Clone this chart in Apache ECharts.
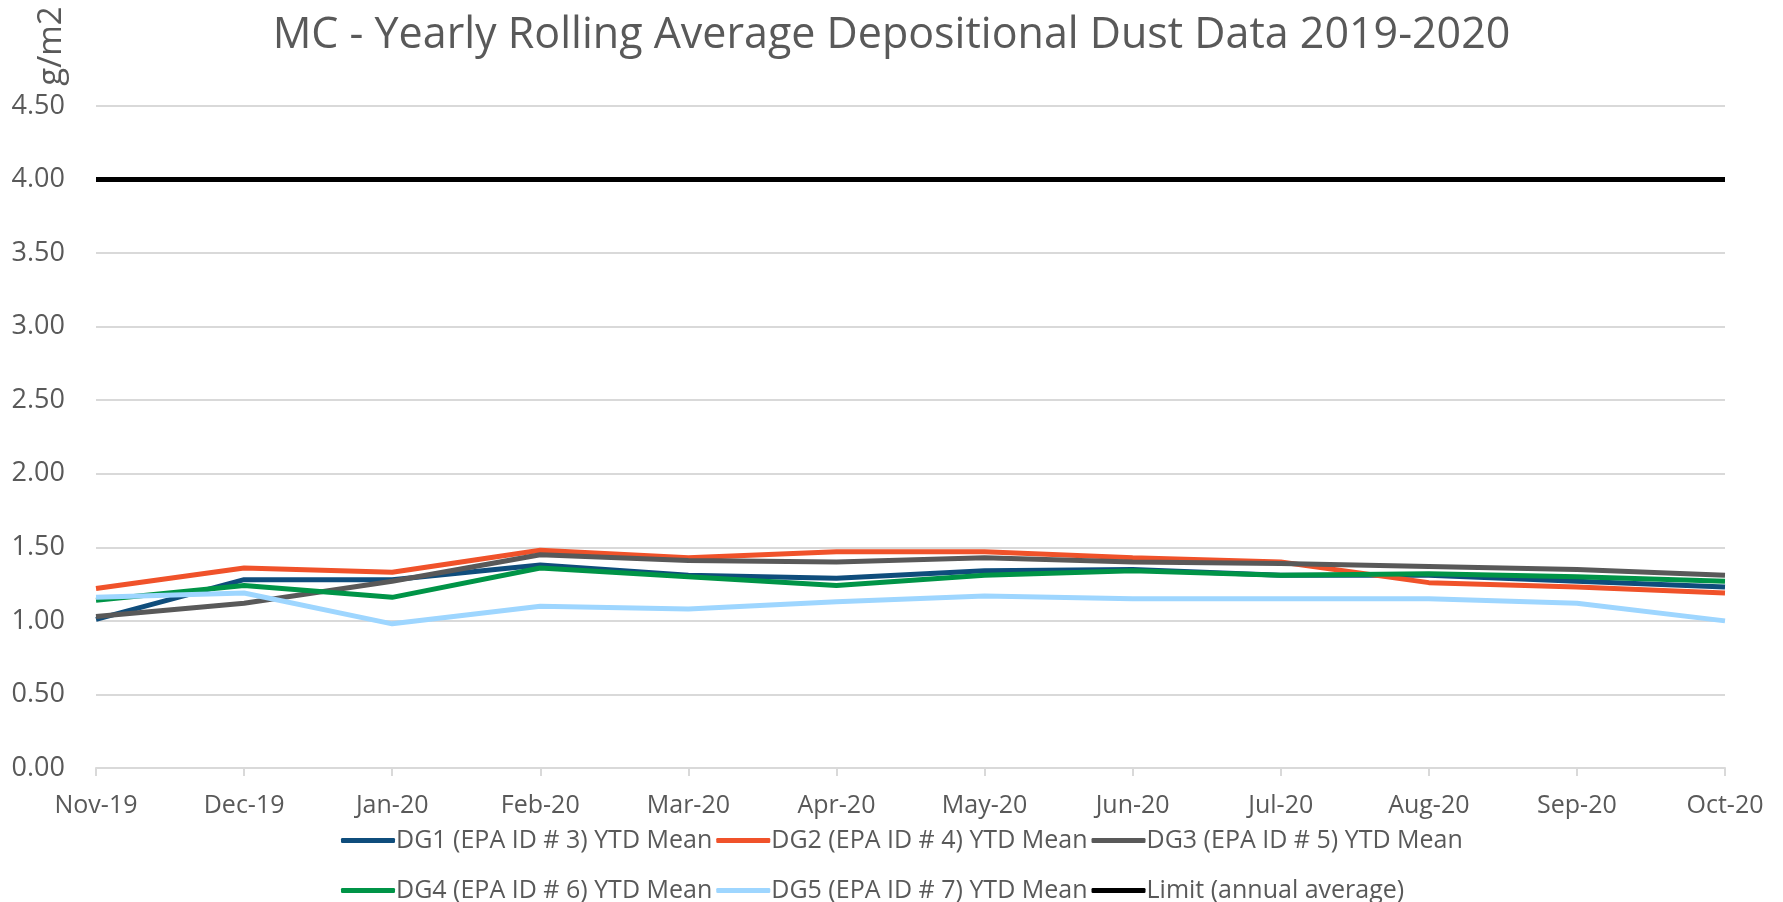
<!DOCTYPE html>
<html>
<head>
<meta charset="utf-8">
<script src="https://cdn.jsdelivr.net/npm/echarts@6/dist/echarts.min.js"></script>
<style>
  html, body { margin: 0; padding: 0; background: #fff; }
  #chart { width: 1783px; height: 902px; }
</style>
</head>
<body>
<div id="chart"></div>
<script>
// categories and series values (g/m2)
const months = ['Nov-19', 'Dec-19', 'Jan-20', 'Feb-20', 'Mar-20', 'Apr-20',
  'May-20', 'Jun-20', 'Jul-20', 'Aug-20', 'Sep-20', 'Oct-20'];
const dg1 = [1.01, 1.28, 1.28, 1.38, 1.31, 1.29, 1.34, 1.35, 1.31, 1.31, 1.27, 1.23];
const dg2 = [1.22, 1.36, 1.33, 1.48, 1.43, 1.47, 1.47, 1.43, 1.40, 1.26, 1.23, 1.19];
const dg3 = [1.03, 1.12, 1.27, 1.45, 1.41, 1.40, 1.43, 1.40, 1.39, 1.37, 1.35, 1.31];
const dg4 = [1.14, 1.24, 1.16, 1.36, 1.30, 1.24, 1.31, 1.34, 1.31, 1.32, 1.30, 1.27];
const dg5 = [1.16, 1.19, 0.98, 1.10, 1.08, 1.13, 1.17, 1.15, 1.15, 1.15, 1.12, 1.00];
const limit = [4, 4, 4, 4, 4, 4, 4, 4, 4, 4, 4, 4];

const seriesNames = [
  'DG1 (EPA ID # 3) YTD Mean',
  'DG2 (EPA ID # 4) YTD Mean',
  'DG3 (EPA ID # 5) YTD Mean',
  'DG4 (EPA ID # 6) YTD Mean',
  'DG5 (EPA ID # 7) YTD Mean',
  'Limit (annual average)'
];
const seriesData = [dg1, dg2, dg3, dg4, dg5, limit];
const colors = ['#0F4D7C', '#F0522A', '#595959', '#009447', '#9ED6FF', '#000000'];

const font = '"Open Sans", "Liberation Sans", sans-serif';
const textColor = '#595959';

const chart = echarts.init(document.getElementById('chart'));

function legendBox(names, top) {
  return {
    data: names,
    left: 336,
    top: top,
    itemGap: 4,
    itemWidth: 54,
    itemHeight: 5,
    icon: 'roundRect',
    textStyle: { fontFamily: font, fontSize: 25, color: textColor, padding: [0, 0, 0, -4] }
  };
}

chart.setOption({
  animation: false,
  color: colors,
  title: {
    text: 'MC - Yearly Rolling Average Depositional Dust Data 2019-2020',
    left: 'center',
    top: 9,
    textStyle: { fontFamily: font, fontSize: 43, fontWeight: 'normal', color: textColor }
  },
  // y-axis unit, rotated like the original
  graphic: [{
    type: 'text',
    x: 52,
    y: 46,
    rotation: Math.PI / 2,
    style: {
      text: 'g/m2',
      font: '33px ' + font,
      fill: textColor,
      align: 'center',
      verticalAlign: 'middle'
    }
  }],
  legend: [
    legendBox(seriesNames.slice(0, 3), 823),
    legendBox(seriesNames.slice(3), 873)
  ],
  grid: { left: 96, right: 58, top: 106, bottom: 134 },
  xAxis: {
    type: 'category',
    boundaryGap: false,
    data: months,
    axisLine: { lineStyle: { color: '#D9D9D9', width: 2 } },
    axisTick: { show: true, length: 8, lineStyle: { color: '#D9D9D9', width: 2 } },
    axisLabel: { fontFamily: font, fontSize: 25, color: textColor, margin: 25 }
  },
  yAxis: {
    type: 'value',
    min: 0,
    max: 4.5,
    interval: 0.5,
    axisLine: { show: false },
    axisTick: { show: false },
    splitLine: { lineStyle: { color: '#D9D9D9', width: 2 } },
    axisLabel: {
      fontFamily: font, fontSize: 27, color: textColor, margin: 31,
      formatter: v => v.toFixed(2)
    }
  },
  series: seriesNames.map((name, i) => ({
    name: name,
    type: 'line',
    data: seriesData[i],
    symbol: 'none',
    z: i === 5 ? 1 : 2,
    lineStyle: { width: 5, color: colors[i] }
  }))
});
</script>
</body>
</html>
